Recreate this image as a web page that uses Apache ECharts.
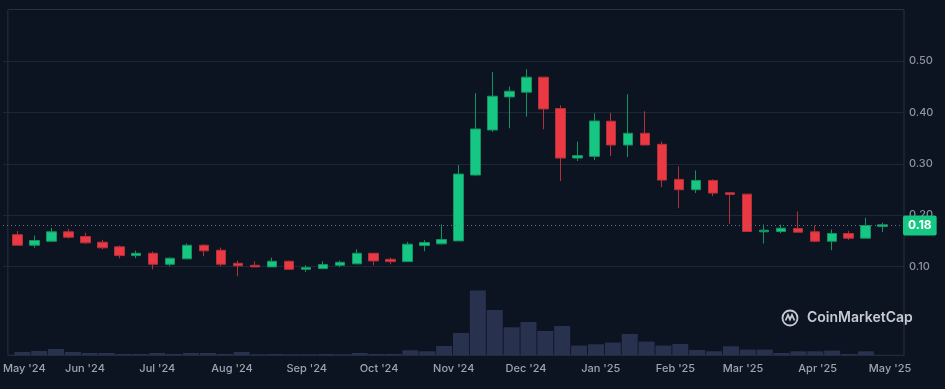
<!DOCTYPE html>
<html>
<head>
<meta charset="utf-8">
<script src="https://cdn.jsdelivr.net/npm/echarts@6/dist/echarts.min.js"></script>
<style>
  html, body { margin: 0; padding: 0; background: #0d1421; }
  #chart { width: 945px; height: 389px; }
</style>
</head>
<body>
<div id="chart"></div>
<script>
// Weekly candles (week start, UTC)
const weeks = [
  '2024-05-06','2024-05-13','2024-05-20','2024-05-27','2024-06-03','2024-06-10','2024-06-17','2024-06-24',
  '2024-07-01','2024-07-08','2024-07-15','2024-07-22','2024-07-29','2024-08-05','2024-08-12','2024-08-19',
  '2024-08-26','2024-09-02','2024-09-09','2024-09-16','2024-09-23','2024-09-30','2024-10-07','2024-10-14',
  '2024-10-21','2024-10-28','2024-11-04','2024-11-11','2024-11-18','2024-11-25','2024-12-02','2024-12-09',
  '2024-12-16','2024-12-23','2024-12-30','2025-01-06','2025-01-13','2025-01-20','2025-01-27','2025-02-03',
  '2025-02-10','2025-02-17','2025-02-24','2025-03-03','2025-03-10','2025-03-17','2025-03-24','2025-03-31',
  '2025-04-07','2025-04-14','2025-04-21','2025-04-28'
];
const opens = [
  0.162, 0.1415, 0.1493, 0.1676, 0.1585, 0.1474, 0.1384, 0.1214, 0.1259, 0.1045, 0.115, 0.1415, 0.1318,
  0.1064, 0.1025, 0.0994, 0.1103, 0.0947, 0.0961, 0.1025, 0.1053, 0.1259, 0.1142, 0.1097, 0.1409, 0.1442,
  0.150, 0.278, 0.3657, 0.430, 0.4392, 0.4684, 0.4074, 0.3111, 0.3144, 0.3827, 0.3365, 0.3593, 0.3378,
  0.2696, 0.2495, 0.2676, 0.2437, 0.2409, 0.1676, 0.1682, 0.1741, 0.1676, 0.1493, 0.1643, 0.1552, 0.178
];
const closes = [
  0.1415, 0.1507, 0.1676, 0.1571, 0.1462, 0.1365, 0.1214, 0.1259, 0.1045, 0.1162, 0.1415, 0.1306, 0.1045,
  0.1014, 0.0994, 0.1103, 0.0947, 0.098, 0.1039, 0.1084, 0.1259, 0.111, 0.1097, 0.1435, 0.1468, 0.1526,
  0.2799, 0.3676, 0.4314, 0.4411, 0.4684, 0.4066, 0.3111, 0.3158, 0.3832, 0.3365, 0.3593, 0.3365, 0.2682,
  0.2495, 0.2676, 0.2429, 0.2404, 0.1682, 0.1708, 0.1747, 0.1669, 0.1493, 0.1643, 0.1552, 0.1799, 0.1813
];
const lows = [
  0.1415, 0.1365, 0.149, 0.1546, 0.1442, 0.1337, 0.1162, 0.1162, 0.0947, 0.1006, 0.115, 0.1201, 0.1006,
  0.0811, 0.0994, 0.0994, 0.0947, 0.0897, 0.0961, 0.0986, 0.1053, 0.1025, 0.1045, 0.1097, 0.1298, 0.1429,
  0.150, 0.276, 0.3618, 0.369, 0.3918, 0.367, 0.2663, 0.3053, 0.3072, 0.315, 0.313, 0.3365, 0.2546,
  0.2136, 0.2429, 0.237, 0.1832, 0.168, 0.1448, 0.1649, 0.1669, 0.1474, 0.1318, 0.152, 0.1552, 0.1669
];
const highs = [
  0.169, 0.1604, 0.1754, 0.1735, 0.1657, 0.152, 0.141, 0.1312, 0.1292, 0.1181, 0.1448, 0.1435, 0.137,
  0.1117, 0.1103, 0.1175, 0.1117, 0.1025, 0.1103, 0.1117, 0.1337, 0.1262, 0.1175, 0.1481, 0.1513, 0.1819,
  0.2975, 0.4372, 0.4782, 0.4503, 0.484, 0.4684, 0.4138, 0.3431, 0.3982, 0.3988, 0.4353, 0.4021, 0.3431,
  0.2949, 0.2871, 0.2696, 0.2437, 0.241, 0.1819, 0.1813, 0.2072, 0.1799, 0.1721, 0.1696, 0.1949, 0.1852
];
// Weekly volume (relative units)
const volumes = [
  3.3, 4.3, 6.3, 3.3, 2.3, 2.3, 1.3, 1.3, 2.3, 1.3, 2.3, 2.3, 1.3, 3.3, 1.0, 1.3, 1.0, 1.0, 1.3, 1.0,
  2.3, 1.3, 1.3, 5.0, 4.0, 9.3, 22.3, 64.7, 45.3, 28.0, 33.3, 24.3, 29.3, 9.7, 11.0, 12.7, 21.3, 13.7,
  9.7, 11.3, 5.3, 4.0, 9.0, 5.7, 5.7, 2.3, 4.0, 4.0, 4.7, 1.3, 4.0, 0
];
// X-axis month labels (first one is clamped inside the plot, as in the original)
const tickDates = [
  '2024-05-06T20:00:00Z','2024-06-01','2024-07-01','2024-08-01','2024-09-01','2024-10-01','2024-11-01',
  '2024-12-01','2025-01-01','2025-02-01','2025-03-01','2025-04-01','2025-05-01'
];
const tickLabels = [
  "May '24","Jun '24","Jul '24","Aug '24","Sep '24","Oct '24","Nov '24",
  "Dec '24","Jan '25","Feb '25","Mar '25","Apr '25","May '25"
];
const priceTicks = ['0.10','0.20','0.30','0.40','0.50'];

const DAY = 86400000;
const t0 = Date.parse(weeks[0]);
const xMin = t0 - 5.98 * DAY;
const xMax = t0 + 365.8 * DAY;
const tickValues = tickDates.map(d => Date.parse(d));
const lastPrice = closes[closes.length - 1];

const candleData = weeks.map((w, i) => [Date.parse(w), opens[i], closes[i], lows[i], highs[i]]);
const volumeData = weeks.map((w, i) => [Date.parse(w), volumes[i]]);

const chart = echarts.init(document.getElementById('chart'), null, { renderer: 'canvas' });
const FONT = 'Inter';
chart.setOption({
  backgroundColor: '#0d1421',
  animation: false,
  textStyle: { fontFamily: FONT },
  grid: [
    { left: 3, right: 41, top: 9.5, height: 308.5, show: false },
    { left: 3, right: 41, top: 9.5, height: 345.8, show: true, borderColor: '#283040', borderWidth: 1, backgroundColor: 'transparent' }
  ],
  xAxis: [
    { type: 'value', gridIndex: 0, min: xMin, max: xMax, show: false, splitLine: { show: false } },
    {
      type: 'value', gridIndex: 1, min: xMin, max: xMax,
      axisLine: { show: false }, axisTick: { show: false }, splitLine: { show: false },
      axisLabel: {
        customValues: tickValues,
        hideOverlap: false,
        showMinLabel: true, showMaxLabel: true,
        margin: 8,
        color: '#9ea4ae', fontSize: 11, fontFamily: FONT, fontWeight: 500,
        formatter: (v) => {
          let best = 0, bd = Infinity;
          tickValues.forEach((t, i) => { const d = Math.abs(t - v); if (d < bd) { bd = d; best = i; } });
          return tickLabels[best];
        }
      }
    }
  ],
  yAxis: [
    {
      type: 'value', gridIndex: 0, position: 'right', min: 0, max: 0.6, interval: 0.1,
      axisLine: { show: false }, axisTick: { show: false },
      splitLine: { show: true, showMinLine: false, showMaxLine: false, lineStyle: { color: '#1f2735', width: 1 } },
      axisLabel: {
        margin: 5, color: '#8d939e', fontSize: 11, fontFamily: FONT, fontWeight: 500,
        formatter: (v) => {
          const s = v.toFixed(2);
          return priceTicks.indexOf(s) >= 0 ? s : '';
        }
      }
    },
    { type: 'value', gridIndex: 1, min: 0, max: 345.8, show: false, splitLine: { show: false } }
  ],
  series: [
    {
      type: 'bar', xAxisIndex: 1, yAxisIndex: 1, data: volumeData, barWidth: 16,
      itemStyle: { color: '#28324f' }, silent: true, z: 1
    },
    {
      type: 'candlestick', xAxisIndex: 0, yAxisIndex: 0, data: candleData,
      encode: { x: 0, y: [1, 2, 3, 4] },
      barWidth: 10, z: 3,
      itemStyle: {
        color: '#16c784', color0: '#ea3943',
        borderColor: '#12935f', borderColor0: '#b3313a', borderWidth: 1
      },
      markLine: {
        silent: true, symbol: ['none', 'none'],
        lineStyle: { color: '#6a7280', type: [1, 3], width: 1 },
        label: {
          show: true, position: 'end', distance: -1,
          formatter: () => lastPrice.toFixed(2),
          backgroundColor: '#16c784', color: '#ffffff', fontWeight: 'bold',
          fontSize: 12, lineHeight: 13, fontFamily: FONT, padding: [4, 5, 3, 5], borderRadius: 2
        },
        data: [{ yAxis: lastPrice }]
      }
    }
  ],
  graphic: [
    {
      type: 'group', left: 780, top: 308, silent: true,
      children: [
        { type: 'circle', shape: { cx: 8, cy: 9.5, r: 7.5 }, style: { fill: 'none', stroke: '#c6cad2', lineWidth: 1.8 } },
        { type: 'polyline', shape: { points: [[3.5, 12], [6, 6.5], [8, 11], [10, 6.5], [12.5, 12]] }, style: { fill: 'none', stroke: '#c6cad2', lineWidth: 1.8 } },
        { type: 'text', style: { x: 25, y: 9.5, text: 'CoinMarketCap', fill: '#c6cad2', font: '600 14px Inter', textVerticalAlign: 'middle' } }
      ]
    }
  ]
});
</script>
</body>
</html>
